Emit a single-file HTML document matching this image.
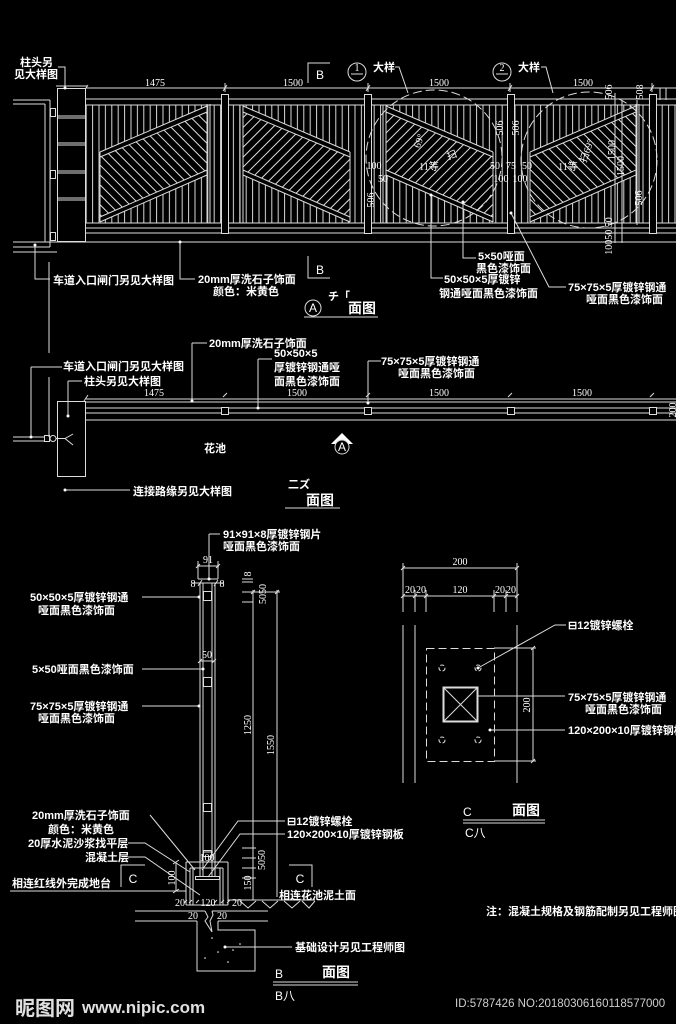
<!DOCTYPE html>
<html><head><meta charset="utf-8">
<style>
html,body{margin:0;padding:0;background:#000;}
svg{display:block}
.t{font-family:"Liberation Sans","Noto Sans CJK SC",sans-serif;font-size:11px;fill:#fff;font-weight:bold}
.n{font-family:"Liberation Serif",serif;font-size:10px;fill:#fff}
.s{font-family:"Liberation Sans",sans-serif;font-size:12px;fill:#fff}
.h{font-family:"Liberation Sans","Noto Sans CJK SC",sans-serif;font-size:14px;fill:#fff;font-weight:bold}
</style></head><body>
<svg width="676" height="1024" viewBox="0 0 676 1024" xmlns="http://www.w3.org/2000/svg">
<defs>
<pattern id="pk" patternUnits="userSpaceOnUse" width="6.4" height="10"><line x1="3" y1="0" x2="3" y2="10" stroke="#d8d8d8" stroke-width="1"/></pattern>
<pattern id="hA" patternUnits="userSpaceOnUse" width="7" height="10" patternTransform="rotate(-45)"><line x1="3" y1="0" x2="3" y2="10" stroke="#e0e0e0" stroke-width="1"/></pattern>
<pattern id="hB" patternUnits="userSpaceOnUse" width="7" height="10" patternTransform="rotate(45)"><line x1="3" y1="0" x2="3" y2="10" stroke="#e0e0e0" stroke-width="1"/></pattern>
</defs>
<rect width="676" height="1024" fill="#000"/>

<!-- ============ ELEVATION ============ -->
<g stroke="#dcdcdc" stroke-width="1" fill="none">
  <!-- pickets -->
  <rect x="86" y="105" width="135" height="118" fill="url(#pk)" stroke="none"/>
  <rect x="229" y="105" width="135" height="118" fill="url(#pk)" stroke="none"/>
  <rect x="372" y="105" width="135" height="118" fill="url(#pk)" stroke="none"/>
  <rect x="514" y="105" width="135" height="118" fill="url(#pk)" stroke="none"/>
  <rect x="657" y="105" width="19" height="118" fill="url(#pk)" stroke="none"/>

  <!-- band P1 (up-right) -->
  <polygon points="100,152 207,106 207,175 100,222" fill="#000" stroke="none"/>
  <polygon points="100,157 207,112 207,170 100,217" fill="url(#hA)" stroke="none"/>
  <path d="M100,152 L207,106 M100,157 L207,112 M100,217 L207,170 M100,222 L207,175 M100,152 V222 M207,104 V223 M210,104 V223"/>
  <!-- band P2 (down-right) -->
  <polygon points="243,106 350,152 350,222 243,175" fill="#000" stroke="none"/>
  <polygon points="243,112 350,157 350,217 243,170" fill="url(#hB)" stroke="none"/>
  <path d="M243,106 L350,152 M243,112 L350,157 M243,170 L350,217 M243,175 L350,222 M243,105 V223 M240,105 V223 M350,152 V222"/>
  <!-- band P3 -->
  <polygon points="386,106 493,152 493,222 386,175" fill="#000" stroke="none"/>
  <polygon points="386,112 493,157 493,217 386,170" fill="url(#hB)" stroke="none"/>
  <path d="M386,106 L493,152 M386,112 L493,157 M386,170 L493,217 M386,175 L493,222 M386,105 V223 M383,105 V223 M493,152 V222"/>
  <!-- band P4 -->
  <polygon points="530,152 636,106 636,175 530,222" fill="#000" stroke="none"/>
  <polygon points="530,157 636,112 636,170 530,217" fill="url(#hA)" stroke="none"/>
  <path d="M530,152 L636,106 M530,157 L636,112 M530,217 L636,170 M530,222 L636,175 M530,152 V222 M636,104 V223 M639,104 V223"/>

  <!-- rails -->
  <path d="M86,88 H676 M86,99 H676 M86,105 H676 M86,223 H676 M86,228 H676 M86,233 H676 M13,242 H676"/>
  <!-- dim ticks -->
  <path d="M84,91 L88,85 M223,91 L227,85 M366,91 L370,85 M508,91 L512,85 M650,91 L654,85 M225,83 V92 M368,83 V92 M510,83 V92 M652,83 V92"/>

  <!-- posts -->
  <rect x="221.5" y="94.5" width="7" height="139" fill="#000"/>
  <rect x="364.5" y="94.5" width="7" height="139" fill="#000"/>
  <rect x="507.5" y="94.5" width="7" height="139" fill="#000"/>
  <rect x="649.5" y="94.5" width="7" height="139" fill="#000"/>

  <!-- pillar -->
  <rect x="57.5" y="88.5" width="28" height="153" fill="#000"/>
  <path d="M56,86 H87 M57,116 H85 M57,118 H85 M57,143 H85 M57,145 H85 M57,171 H85 M57,173 H85 M57,198 H85 M57,200 H85"/>
  <!-- left gate -->
  <path d="M13,100 H50 M13,104 H45 M45,104 V242 M50,100 V247 M13,247 H50 M13,252 H57"/>
  <rect x="50.5" y="108.5" width="5" height="8"/>
  <rect x="50.5" y="170.5" width="5" height="8"/>
  <rect x="50.5" y="232.5" width="5" height="8"/>
  <path d="M49,262 V353 M49,377 V437"/>

  <!-- right dims -->
  <path d="M615,93 V243 M622,100 V243 M637,100 V225 M660,88 V100 M666,88 V100"/>

  <!-- dashed detail circles -->
  <circle cx="434" cy="158" r="68" stroke-dasharray="9,4"/>
  <circle cx="589" cy="160" r="68" stroke-dasharray="9,4"/>

  <!-- detail callouts -->
  <circle cx="357" cy="72" r="9"/>
  <path d="M351,74 H363"/>
  <circle cx="502" cy="72" r="9"/>
  <path d="M496,74 H508"/>
  <path d="M395,67 L399,67 L408,93 M541,67 L546,67 L553,93"/>

  <!-- section B marks -->
  <path d="M330,63 H308 V83 M308,256 V278 H330"/>

  <!-- leaders -->
  <path d="M58,67 H65 V88 M35,245 V279 H50 M180,242 V279 H195"/>
  <path d="M463,202 V258 H476 M431,195 V278 H443 M511,213 L549,287 H566"/>
</g>
<g fill="#fff">
  <circle cx="65" cy="88" r="1.5"/><circle cx="35" cy="245" r="1.5"/><circle cx="180" cy="242" r="1.5"/>
  <circle cx="463" cy="202" r="1.5"/><circle cx="431" cy="195" r="1.5"/><circle cx="511" cy="213" r="1.5"/>
</g>

<text class="t" x="20" y="66">柱头另</text>
<text class="t" x="14" y="78">见大样图</text>
<text class="n" x="155" y="86" text-anchor="middle">1475</text>
<text class="n" x="293" y="86" text-anchor="middle">1500</text>
<text class="n" x="439" y="86" text-anchor="middle">1500</text>
<text class="n" x="583" y="86" text-anchor="middle">1500</text>
<text class="s" x="320" y="79" text-anchor="middle">B</text>
<text class="s" x="320" y="274" text-anchor="middle">B</text>
<text class="n" x="357" y="71" text-anchor="middle" font-size="9">1</text>
<text class="n" x="502" y="71" text-anchor="middle" font-size="9">2</text>
<text class="t" x="373" y="71">大样</text>
<text class="t" x="518" y="71">大样</text>

<text class="t" x="53" y="284">车道入口闸门另见大样图</text>
<text class="t" x="198" y="283">20mm厚洗石子饰面</text>
<text class="t" x="213" y="295">颜色：米黄色</text>
<text class="t" x="478" y="260">5×50哑面</text>
<text class="t" x="476" y="272">黑色漆饰面</text>
<text class="t" x="444" y="283">50×50×5厚镀锌</text>
<text class="t" x="439" y="297">钢通哑面黑色漆饰面</text>
<text class="t" x="568" y="291">75×75×5厚镀锌钢通</text>
<text class="t" x="586" y="303">哑面黑色漆饰面</text>

<!-- small dims in detail circles -->
<g class="n" font-size="9">
  <text x="374" y="169" text-anchor="middle">100</text>
  <text x="383" y="182" text-anchor="middle">50</text>
  <text x="495" y="169" text-anchor="middle">50</text>
  <text x="511" y="169" text-anchor="middle">75</text>
  <text x="527" y="169" text-anchor="middle">50</text>
  <text x="501" y="182" text-anchor="middle">100</text>
  <text x="520" y="182" text-anchor="middle">100</text>
  <text x="429" y="170" text-anchor="middle">11等</text>
  <text x="568" y="170" text-anchor="middle">11等</text>
  <text transform="translate(503,128) rotate(-90)" text-anchor="middle">506</text>
  <text transform="translate(519,128) rotate(-90)" text-anchor="middle">506</text>
  <text transform="translate(374,200) rotate(-90)" text-anchor="middle">506</text>
  <text transform="translate(422,142) rotate(-70)" text-anchor="middle">69°</text>
  <text transform="translate(453,158) rotate(-20)" text-anchor="middle">扫</text>
  <text transform="translate(590,152) rotate(-70)" text-anchor="middle">扫69°</text>
  <text transform="translate(612,92) rotate(-90)" text-anchor="middle">506</text>
  <text transform="translate(643,92) rotate(-90)" text-anchor="middle">508</text>
  <text transform="translate(615,150) rotate(-90)" text-anchor="middle">1500</text>
  <text transform="translate(624,166) rotate(-90)" text-anchor="middle">1500</text>
  <text transform="translate(642,198) rotate(-90)" text-anchor="middle">506</text>
  <text transform="translate(612,236) rotate(-90)" text-anchor="middle">10050 50</text>
</g>

<!-- title A -->
<g stroke="#dcdcdc" fill="none">
  <circle cx="313" cy="308" r="8"/>
  <path d="M304,317 H378"/>
</g>
<text class="s" x="313" y="312" text-anchor="middle" font-size="10">A</text>
<text class="t" x="328" y="300" font-weight="normal">チ「</text>
<text class="h" x="348" y="313">面图</text>

<!-- ============ PLAN ============ -->
<g stroke="#dcdcdc" stroke-width="1" fill="none">
  <path d="M86,399 H676 M86,402 H676 M86,408 H676 M86,413 H676 M86,420 H676"/>
  <rect x="57.5" y="401.5" width="28" height="75"/>
  <rect x="221.5" y="407.5" width="7" height="7" fill="#000"/>
  <rect x="364.5" y="407.5" width="7" height="7" fill="#000"/>
  <rect x="507.5" y="407.5" width="7" height="7" fill="#000"/>
  <rect x="649.5" y="407.5" width="7" height="7" fill="#000"/>
  <path d="M223,397 L227,393 M366,397 L370,393 M508,397 L512,393 M650,397 L654,393 M84,401 L88,395"/>
  <path d="M13,437 H45 M13,441 H45"/>
  <rect x="44.5" y="435.5" width="5" height="6"/>
  <circle cx="53" cy="438.5" r="3"/>
  <path d="M56,438.5 H65 L73,434 M65,438.5 L73,445"/>
  <!-- leaders -->
  <path d="M31,367 H62 M31,367 V437 M68,381 H82 M68,381 V416 M192,343 H207 M192,343 V401 M258,359 H272 M258,359 V408 M368,361 H381 M368,361 V403 M65,490 H130"/>
  <!-- A mark -->
  <path d="M285,508 H340"/>
</g>
<polygon points="331,444 342,433 353,444" fill="#fff"/>
<circle cx="342" cy="447" r="7" fill="#000" stroke="#dcdcdc"/>
<text class="s" x="342" y="451" text-anchor="middle" font-size="10">A</text>
<g fill="#fff">
  <circle cx="31" cy="437" r="1.5"/><circle cx="68" cy="416" r="1.5"/><circle cx="192" cy="401" r="1.5"/>
  <circle cx="258" cy="408" r="1.5"/><circle cx="368" cy="403" r="1.5"/><circle cx="65" cy="490" r="1.5"/>
</g>
<text class="t" x="63" y="370">车道入口闸门另见大样图</text>
<text class="t" x="84" y="385">柱头另见大样图</text>
<text class="t" x="209" y="347">20mm厚洗石子饰面</text>
<text class="t" x="274" y="357">50×50×5</text>
<text class="t" x="274" y="371">厚镀锌钢通哑</text>
<text class="t" x="274" y="385">面黑色漆饰面</text>
<text class="t" x="381" y="365">75×75×5厚镀锌钢通</text>
<text class="t" x="398" y="377">哑面黑色漆饰面</text>
<text class="n" x="154" y="396" text-anchor="middle">1475</text>
<text class="n" x="297" y="396" text-anchor="middle">1500</text>
<text class="n" x="439" y="396" text-anchor="middle">1500</text>
<text class="n" x="582" y="396" text-anchor="middle">1500</text>
<text class="n" transform="translate(676,410) rotate(-90)" text-anchor="middle">200</text>
<text class="t" x="215" y="452" text-anchor="middle" font-size="12">花池</text>
<text class="t" x="133" y="495">连接路缘另见大样图</text>
<text class="t" x="288" y="488" font-weight="normal" font-size="10">二ズ</text>
<text class="h" x="306" y="505">面图</text>

<!-- ============ SECTION B ============ -->
<g stroke="#dcdcdc" stroke-width="1" fill="none">
  <path d="M200,583 V877 M203,583 V877 M212,583 V877 M215,583 V877 M198,579 H218 M198,583 H218"/>
  <rect x="203.5" y="591.5" width="8" height="9"/>
  <rect x="203.5" y="677.5" width="8" height="9"/>
  <rect x="203.5" y="803.5" width="8" height="8"/>
  <rect x="203.5" y="850.5" width="8" height="6"/>
  <!-- 91 dim -->
  <path d="M197,566 H219 M198,561 V579 M218,561 V579 M196,568 L200,564 M216,568 L220,564 M209,534 V579 M209,534 H220"/>
  <path d="M192,583 H224 M198,586 L202,580 M214,586 L218,580"/>
  <path d="M200,661 H214 M198,663 L202,659 M212,663 L216,659"/>
  <!-- right dim lines -->
  <path d="M253,590 V900 M277,590 V897 M242,579 H253 M242,582 H253 M242,592 H280 M242,602 H253 M251,594 L255,590 M275,594 L279,590"/>
  <path d="M242,848 H256 M242,858 H256 M242,868 H256 M242,878 H256"/>
  <!-- label leaders -->
  <path d="M142,597 H199 M142,669 H203 M142,706 H199"/>
  <!-- base detail -->
  <path d="M186,862 H228 M186,862 V905 M228,862 V905 M190,868 H223 M190,868 V905 M193,868 V905 M220,868 V905 M223,868 V905 M186,905 H228"/>
  <rect x="195.5" y="876.5" width="24" height="3"/>
  <path d="M203,852 H213"/>
  <path d="M176,862 V891 M173,864 L179,860 M173,893 L179,889"/>
  <!-- ground -->
  <path d="M10,891 H186 M228,900 H315"/>
  <path d="M240,901 L248,908 L256,901 M262,901 L270,908 L278,901 M284,901 L292,908 L300,901 M302,901 L309,908 L315,901"/>
  <path d="M184,903 L187,900 M189,903 L192,900 M196,903 L199,900 M214,903 L217,900 M221,903 L224,900 M227,903 L230,900"/>
  <!-- foundation -->
  <path d="M135,911 H205 M212,911 H268 M135,921 H197 M218,921 H268"/>
  <path d="M205,911 L208,917 L205,921 L212,932 L210,921 L213,915 L212,911"/>
  <path d="M197,921 V971 H255 V930 H218 V921"/>
  <!-- C marks -->
  <path d="M145,865 H121 V887 M289,865 H312 V887"/>
  <!-- leaders -->
  <path d="M150,815 L195,870 M128,843 H145 L190,872 M128,857 H145 L200,895"/>
  <path d="M285,821 H238 L202,870 M285,834 H240 L208,877"/>
  <path d="M225,947 H292"/>
  <!-- title B -->
  <path d="M273,982 H358 M273,985 H358"/>
</g>
<g fill="#fff">
  <circle cx="199" cy="597" r="1.5"/><circle cx="203" cy="669" r="1.5"/><circle cx="199" cy="706" r="1.5"/>
  <circle cx="209" cy="579" r="1.5"/><circle cx="225" cy="947" r="1.5"/>
  <circle cx="212" cy="938" r="0.8"/><circle cx="233" cy="950" r="0.8"/><circle cx="205" cy="958" r="0.8"/><circle cx="228" cy="962" r="0.8"/><circle cx="240" cy="944" r="0.8"/><circle cx="218" cy="952" r="0.8"/>
</g>
<text class="t" x="223" y="538">91×91×8厚镀锌钢片</text>
<text class="t" x="223" y="550">哑面黑色漆饰面</text>
<text class="n" x="208" y="563" text-anchor="middle">91</text>
<text class="n" x="193" y="587" text-anchor="middle">8</text>
<text class="n" x="222" y="587" text-anchor="middle">8</text>
<text class="n" x="207" y="658" text-anchor="middle">50</text>
<text class="n" transform="translate(251,574) rotate(-90)" text-anchor="middle">8</text>
<text class="n" transform="translate(266,594) rotate(-90)" text-anchor="middle">5050</text>
<text class="t" x="30" y="601">50×50×5厚镀锌钢通</text>
<text class="t" x="38" y="614">哑面黑色漆饰面</text>
<text class="t" x="32" y="673">5×50哑面黑色漆饰面</text>
<text class="t" x="30" y="710">75×75×5厚镀锌钢通</text>
<text class="t" x="38" y="722">哑面黑色漆饰面</text>
<text class="n" transform="translate(251,725) rotate(-90)" text-anchor="middle">1250</text>
<text class="n" transform="translate(274,745) rotate(-90)" text-anchor="middle">1550</text>

<text class="t" x="32" y="819">20mm厚洗石子饰面</text>
<text class="t" x="48" y="833">颜色：米黄色</text>
<text class="t" x="28" y="847">20厚水泥沙浆找平层</text>
<text class="t" x="85" y="861">混凝土层</text>
<text class="t" x="12" y="887">相连红线外完成地台</text>
<text class="s" x="133" y="883" text-anchor="middle" font-size="13">C</text>
<text class="s" x="300" y="883" text-anchor="middle" font-size="13">C</text>
<text class="t" x="279" y="899">相连花池泥土面</text>
<text class="t" x="287" y="825">⊟12镀锌螺栓</text>
<text class="t" x="287" y="838">120×200×10厚镀锌钢板</text>
<text class="n" x="207" y="861" text-anchor="middle">100</text>
<text class="n" transform="translate(175,878) rotate(-90)" text-anchor="middle">100</text>
<text class="n" transform="translate(251,883) rotate(-90)" text-anchor="middle">150</text>
<text class="n" transform="translate(265,860) rotate(-90)" text-anchor="middle">5050</text>
<text class="n" x="180" y="906" text-anchor="middle">20</text>
<text class="n" x="208" y="906" text-anchor="middle">120</text>
<text class="n" x="237" y="906" text-anchor="middle">20</text>
<text class="n" x="193" y="919" text-anchor="middle">20</text>
<text class="n" x="222" y="919" text-anchor="middle">20</text>
<text class="t" x="295" y="951">基础设计另见工程师图</text>
<text class="s" x="275" y="978" font-size="15">B</text>
<text class="h" x="322" y="977">面图</text>
<text class="s" x="275" y="1000" font-size="11">B八</text>

<!-- ============ PLAN C ============ -->
<g stroke="#dcdcdc" stroke-width="1" fill="none">
  <path d="M403,568 H517 M403,596 H517"/>
  <path d="M403,563 V612 M415,590 V612 M426,590 V612 M494,590 V612 M506,590 V612 M517,563 V612"/>
  <path d="M401,570 L405,566 M515,570 L519,566 M401,598 L405,594 M413,598 L417,594 M424,598 L428,594 M492,598 L496,594 M504,598 L508,594 M515,598 L519,594"/>
  <path d="M403,625 V783 M415,625 V783 M517,625 V783"/>
  <rect x="426.5" y="648.5" width="68" height="113" stroke-dasharray="8,4"/>
  <path d="M494,648 H536 M494,761 H536 M533,648 V761 M531,650 L535,646 M531,763 L535,759"/>
  <rect x="443.5" y="687.5" width="34" height="34" stroke-width="2"/>
  <path d="M444,688 L477,721 M477,688 L444,721"/>
  <circle cx="442" cy="668" r="3" stroke-dasharray="4,2"/>
  <circle cx="478" cy="668" r="3" stroke-dasharray="4,2"/>
  <circle cx="442" cy="740" r="3" stroke-dasharray="4,2"/>
  <circle cx="478" cy="740" r="3" stroke-dasharray="4,2"/>
  <path d="M478,668 L555,625 H566 M478,696 H565 M490,730 H565"/>
  <path d="M463,820 H545 M463,823 H545"/>
</g>
<g fill="#fff"><circle cx="478" cy="668" r="1.5"/><circle cx="490" cy="730" r="1.5"/></g>
<text class="n" x="460" y="565" text-anchor="middle">200</text>
<text class="n" x="410" y="593" text-anchor="middle">20</text>
<text class="n" x="421" y="593" text-anchor="middle">20</text>
<text class="n" x="460" y="593" text-anchor="middle">120</text>
<text class="n" x="500" y="593" text-anchor="middle">20</text>
<text class="n" x="511" y="593" text-anchor="middle">20</text>
<text class="n" transform="translate(530,705) rotate(-90)" text-anchor="middle">200</text>
<text class="t" x="568" y="629">⊟12镀锌螺栓</text>
<text class="t" x="568" y="701">75×75×5厚镀锌钢通</text>
<text class="t" x="585" y="713">哑面黑色漆饰面</text>
<text class="t" x="568" y="734">120×200×10厚镀锌钢板</text>
<text class="s" x="463" y="816" font-size="15">C</text>
<text class="h" x="512" y="815">面图</text>
<text class="s" x="465" y="837" font-size="11">C八</text>

<text class="t" x="486" y="915">注：混凝土规格及钢筋配制另见工程师图</text>

<!-- watermark -->
<text x="15" y="1015" font-family="'Noto Sans CJK SC','WenQuanYi Zen Hei',sans-serif" font-size="20" font-weight="bold" fill="#e0e0e0">昵图网</text>
<text x="82" y="1013" font-family="'Liberation Sans',sans-serif" font-size="17" font-weight="bold" fill="#e0e0e0">www.nipic.com</text>
<text x="455" y="1007" font-family="'Liberation Sans',sans-serif" font-size="11.5" fill="#cfcfcf">ID:5787426 NO:20180306160118577000</text>
</svg>
</body></html>
